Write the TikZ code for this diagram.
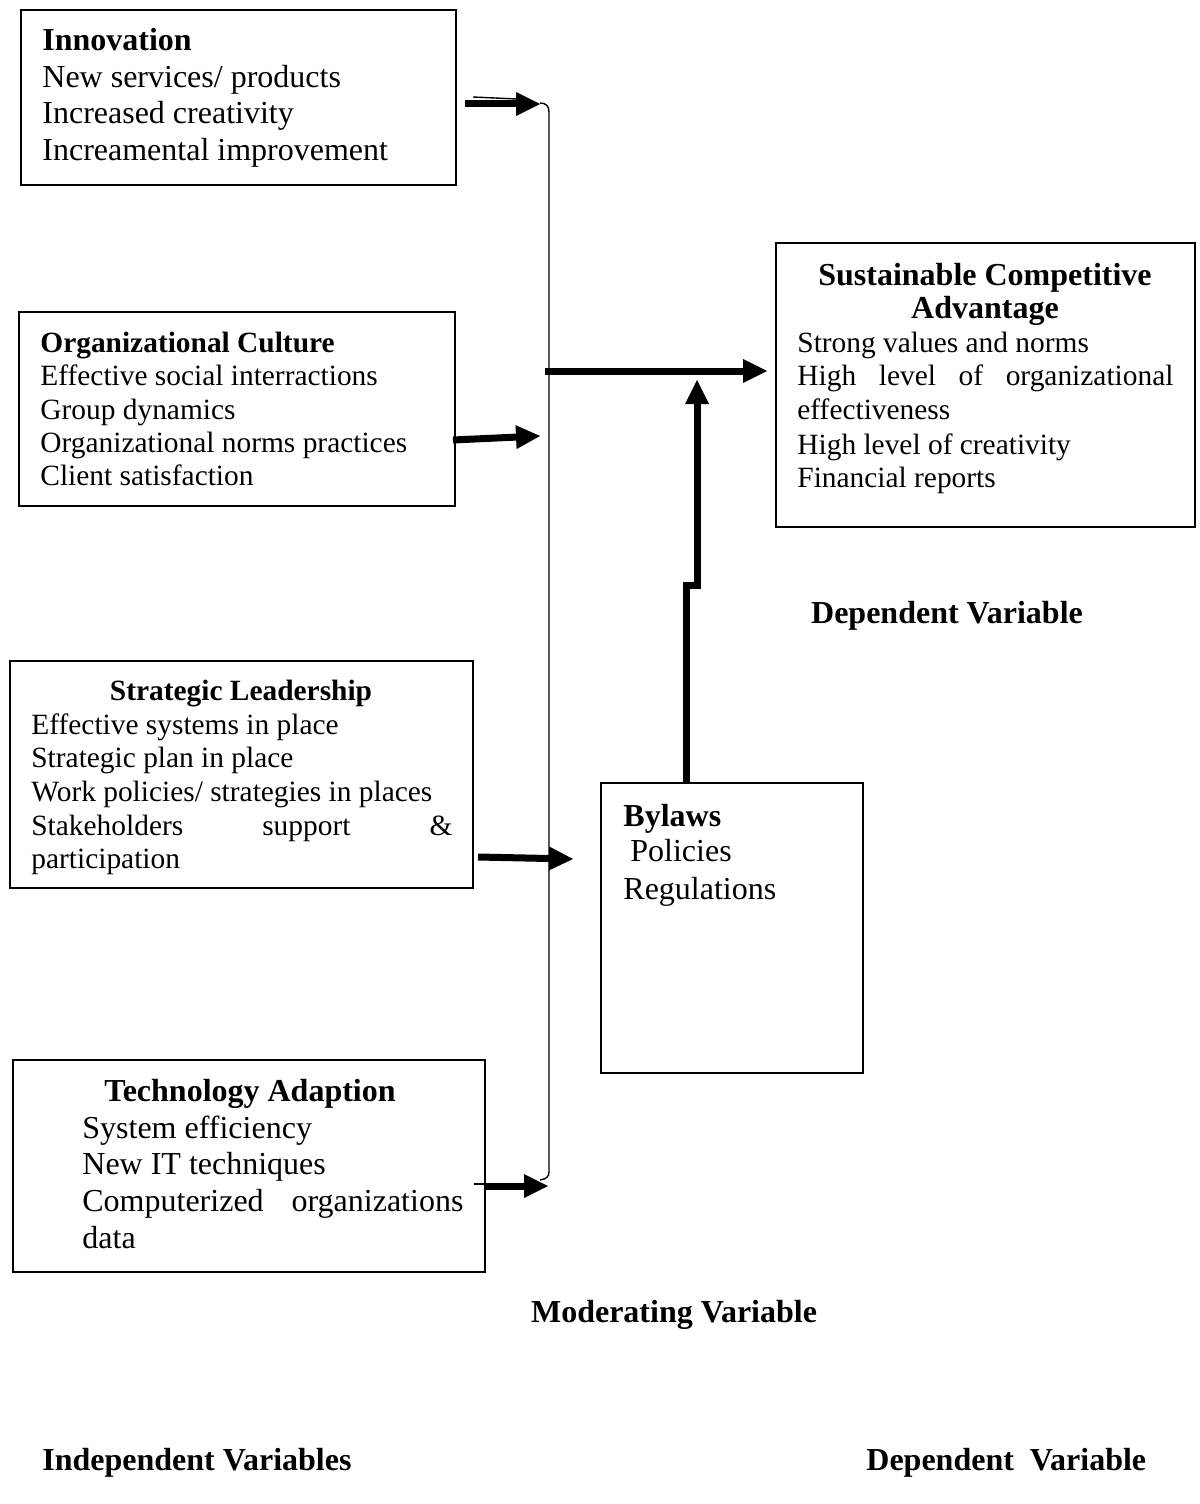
\documentclass[tikz,border=0pt]{standalone}
\usepackage{fontspec}
\setmainfont{Liberation Serif}
\usetikzlibrary{arrows.meta,calc}

\tikzset{
  box/.style={draw, line width=1pt, anchor=north west, inner sep=0pt, outer sep=0pt},
  txt/.style={anchor=base west, inner sep=0pt, yshift=-1pt, font=\fontsize{14.7}{17}\selectfont},
  txtbig/.style={anchor=base west, inner sep=0pt, yshift=-1pt, font=\fontsize{16}{18}\selectfont},
  head/.style={txt, font=\fontsize{14.7}{17}\selectfont\bfseries},
  headbig/.style={txtbig, font=\fontsize{16}{18}\selectfont\bfseries},
  bigarrow/.style={line width=3.5pt, -{Triangle[length=12pt,width=12pt,line width=0pt]}},
  hairline/.style={line width=0.7pt},
}

\begin{document}
\begin{tikzpicture}[x=0.5pt,y=-0.5pt]
    \useasboundingbox (0,0) rectangle (1199,1504);
    % boxes
    \node[box, minimum width=217.5pt, minimum height=87.5pt] (innov) at (21,10) {};
    \node[box, minimum width=218pt, minimum height=97pt] (culture) at (19,312) {};
    \node[box, minimum width=231.5pt, minimum height=113.5pt] (leader) at (10,661) {};
    \node[box, minimum width=236pt, minimum height=106pt] (tech) at (13,1060) {};
    \node[box, minimum width=131pt, minimum height=145pt] (bylaws) at (601,783) {};
    \node[box, minimum width=209.5pt, minimum height=142pt] (sca) at (776,243) {};
    % innovation
    \node[headbig] (innov-h) at (42,49) {Innovation};
    \node[txtbig] (innov-1) at (42,86) {New services/ products};
    \node[txtbig] (innov-2) at (42,122) {Increased creativity};
    \node[txtbig] (innov-3) at (42,159) {Increamental improvement};
    % culture
    \node[head] (culture-h) at (40,350) {Organizational Culture};
    \node[txt] (culture-1) at (40,383) {Effective social interractions};
    \node[txt] (culture-2) at (40,417) {Group dynamics};
    \node[txt] (culture-3) at (40,450) {Organizational norms practices};
    \node[txt] (culture-4) at (40,483) {Client satisfaction};
    % leadership
    \node[head, anchor=base] (leader-h) at (241,698) {Strategic Leadership};
    \node[txt] (leader-1) at (31,732) {Effective systems in place};
    \node[txt] (leader-2) at (31,765) {Strategic plan in place};
    \node[txt] (leader-3) at (31,799) {Work policies/ strategies in places};
    \node[txt] (leader-4) at (31,833) {\makebox[210.5pt][s]{Stakeholders support \&}};
    \node[txt] (leader-5) at (31,866) {participation};
    % technology
    \node[headbig, anchor=base] (tech-h) at (250,1099) {Technology Adaption};
    \node[txtbig] (tech-1) at (82,1136) {System efficiency};
    \node[txtbig] (tech-2) at (82,1172) {New IT techniques};
    \node[txtbig] (tech-3) at (82,1209) {\makebox[190.5pt][s]{Computerized organizations}};
    \node[txtbig] (tech-4) at (82,1246) {data};
    % bylaws
    \node[headbig] (bylaws-h) at (623,824) {Bylaws};
    \node[txtbig] (bylaws-1) at (630,859) {Policies};
    \node[txtbig] (bylaws-2) at (623,897) {Regulations};
    % sustainable competitive advantage
    \node[headbig, anchor=base] (sca-h1) at (985,283) {Sustainable Competitive};
    \node[headbig, anchor=base] (sca-h2) at (985,316) {Advantage};
    \node[txt] (sca-1) at (797,350) {Strong values and norms};
    \node[txt] (sca-2) at (797,383) {\makebox[188pt][s]{High level of organizational}};
    \node[txt] (sca-3) at (797,417) {effectiveness};
    \node[txt] (sca-4) at (797,452) {High level of creativity};
    \node[txt] (sca-5) at (797,485) {Financial reports};
    % variable labels
    \node[headbig, anchor=base] (dep-mid) at (947,621) {Dependent Variable};
    \node[headbig, anchor=base] (mod) at (674,1320) {Moderating Variable};
    \node[headbig] (indep) at (42,1468) {Independent Variables};
    \node[headbig] (dep-bot) at (866,1468) {Dependent\ \ Variable};
    % bracket
    \coordinate (top) at (540,103);
    \coordinate (bot) at (540,1180);
    \draw[hairline] (top) .. controls (546,103) and (549,106) .. (549,112) -- (549,1172) .. controls (549,1177) and (546,1179) .. (bot);
    % arrows into the bracket
    \coordinate (innov-in) at (540,104);
    \coordinate (culture-in) at (540,436);
    \coordinate (leader-in) at (573,859);
    \coordinate (tech-in) at (548,1186);
    \draw[bigarrow] ($(innov.east |- innov-in)+(9,0)$) -- (innov-in);
    \draw[hairline] ($(innov.east |- innov-in)+(17,-7)$) -- ++(44,2);
    \draw[bigarrow] ($(culture.east |- culture-in)+(-2,4)$) -- (culture-in);
    \draw[bigarrow] ($(leader.east |- leader-in)+(5,-2)$) -- (leader-in);
    \draw[bigarrow] (tech.east |- tech-in) -- (tech-in);
    \draw[hairline] ($(tech.east |- tech-in)+(-11,-2)$) -- ++(11,0);
    % out to the dependent variable
    \coordinate (main-out) at (545,371);
    \draw[bigarrow] (main-out) -- ($(sca.west |- main-out)+(-9,0)$);
    % moderating arrow
    \coordinate (jog) at (686,585);
    \coordinate (meet) at (697,380);
    \draw[bigarrow, line join=miter] (bylaws.north -| jog) -- (jog) -- (jog -| meet) -- (meet);
\end{tikzpicture}
\end{document}
